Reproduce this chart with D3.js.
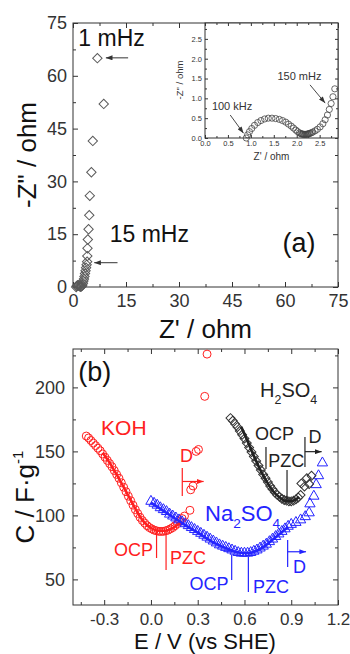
<!DOCTYPE html>
<html>
<head>
<meta charset="utf-8">
<script src="https://cdn.jsdelivr.net/npm/d3@7"></script>
<style>
body { margin: 0; background: #fff; }
svg text { font-family: "Liberation Sans", Arial, sans-serif; }
</style>
</head>
<body>
<svg id="fig" width="350" height="654"></svg>
<script>
// ---- panel (a): Nyquist plot, main ----
var zRe = [0.9, 1.05, 1.25, 1.45, 1.65, 1.85, 2.05, 2.2, 2.35, 2.5, 2.65, 2.8, 2.95, 3.1, 3.25, 3.4, 3.55, 3.7, 3.85, 4.0, 4.05, 4.1, 4.2, 4.4, 4.6, 4.75, 5.2, 5.6, 8.7, 6.9];
var zIm = [0.0, 0.25, 0.45, 0.5, 0.42, 0.25, 0.1, 0.08, 0.15, 0.3, 0.6, 1.1, 1.7, 2.3, 3.0, 3.8, 4.6, 5.5, 6.3, 7.2, 8.8, 11.0, 13.5, 16.4, 20.4, 25.9, 32.6, 41.5, 52.0, 65.0];
var zTicks = [0, 15, 30, 45, 60, 75];
var zMinor = [7.5, 22.5, 37.5, 52.5, 67.5];

// ---- panel (a): inset, high frequency part ----
var insRe = [0.90, 0.93, 0.97, 1.02, 1.08, 1.15, 1.22, 1.30, 1.38, 1.46, 1.54, 1.62, 1.69, 1.76, 1.82, 1.88, 1.93, 1.98, 2.02, 2.06, 2.09, 2.11, 2.13, 2.15, 2.17, 2.19, 2.21, 2.23, 2.25, 2.27, 2.29, 2.32, 2.35, 2.40, 2.45, 2.51, 2.57, 2.62, 2.67, 2.71, 2.75, 2.79, 2.83];
var insIm = [0.00, 0.08, 0.16, 0.24, 0.32, 0.39, 0.44, 0.48, 0.50, 0.50, 0.49, 0.47, 0.44, 0.40, 0.35, 0.30, 0.25, 0.20, 0.16, 0.13, 0.11, 0.10, 0.10, 0.09, 0.09, 0.09, 0.09, 0.10, 0.10, 0.11, 0.12, 0.13, 0.15, 0.18, 0.22, 0.28, 0.36, 0.46, 0.58, 0.72, 0.87, 1.04, 1.24];
var insTicks = [0, 0.5, 1, 1.5, 2, 2.5];
var insMinor = [0.25, 0.75, 1.25, 1.75, 2.25, 2.75];

// ---- panel (b): capacitance vs potential ----
var kohE = [-0.415, -0.40, -0.385, -0.37, -0.355, -0.34, -0.325, -0.31, -0.295, -0.28, -0.265, -0.25, -0.235, -0.22, -0.205, -0.19, -0.175, -0.16, -0.145, -0.13, -0.115, -0.10, -0.085, -0.07, -0.055, -0.04, -0.025, -0.01, 0.005, 0.02, 0.035, 0.05, 0.065, 0.08, 0.095, 0.11, 0.125, 0.14, 0.155, 0.17, 0.185, 0.20, 0.215, 0.25, 0.255, 0.27, 0.29, 0.305, 0.345, 0.36];
var kohC = [162, 160.5, 158.5, 156.5, 154.5, 152.5, 150.5, 148, 145.5, 143, 140.5, 138, 135, 132, 129, 125.5, 122, 118.5, 115, 111.5, 108, 104.5, 101.5, 98.5, 96, 94, 92, 90.5, 89.5, 88.5, 88, 87.5, 87.5, 87.5, 88, 88.5, 89.5, 90.5, 92, 93.5, 95.5, 97.5, 99.5, 104, 120, 123, 150, 151.5, 193, 226];
var kohFitE = [-0.31, -0.27, -0.23, -0.19, -0.15, -0.11, -0.07, -0.03, 0.01, 0.05, 0.09, 0.13, 0.17, 0.20];
var kohFitC = [149, 142, 134, 125.5, 116.5, 107.5, 99, 93, 89.5, 88, 88, 89.5, 92.5, 95.5];

var naE = [0.00, 0.02, 0.04, 0.06, 0.08, 0.10, 0.12, 0.14, 0.16, 0.18, 0.20, 0.22, 0.24, 0.26, 0.28, 0.30, 0.32, 0.34, 0.36, 0.38, 0.40, 0.42, 0.44, 0.46, 0.48, 0.50, 0.52, 0.54, 0.56, 0.58, 0.60, 0.62, 0.64, 0.66, 0.68, 0.70, 0.72, 0.74, 0.76, 0.78, 0.80, 0.82, 0.84, 0.86, 0.88, 0.90, 0.93, 0.96, 0.99, 1.015, 1.02, 1.045, 1.06, 1.075, 1.10];
var naC = [111, 109.5, 108, 106, 104.5, 103, 101, 99.5, 98, 96.5, 95, 93.5, 92, 90.5, 89, 87.5, 86, 84.5, 83, 81.5, 80, 78.5, 77, 76, 75, 74, 73, 72, 71, 70.5, 70.5, 70.5, 71, 72, 73, 74.5, 76, 77.5, 79.5, 81.5, 83.5, 85.5, 87.5, 89.5, 91.5, 93, 94.5, 96.5, 99, 102, 109, 115, 124, 131, 141];
var naFitE = [0.0, 0.1, 0.2, 0.3, 0.4, 0.5, 0.56, 0.62, 0.68, 0.74, 0.8, 0.85, 0.88];
var naFitC = [110, 102, 94, 86.5, 79, 73.5, 71, 70.5, 72.5, 77, 83, 88, 91];

var hE = [0.51, 0.525, 0.54, 0.555, 0.57, 0.585, 0.60, 0.615, 0.63, 0.645, 0.66, 0.675, 0.69, 0.705, 0.72, 0.735, 0.75, 0.765, 0.78, 0.795, 0.81, 0.825, 0.84, 0.855, 0.87, 0.885, 0.90, 0.915, 0.93, 0.945, 0.96, 0.965, 0.985, 1.00, 1.015, 1.03];
var hC = [176, 174, 171.5, 169, 166, 163, 160, 156.5, 153, 149.5, 146, 142.5, 139, 135.5, 132, 129, 126, 123, 120.5, 118, 116, 114.5, 113, 112, 111.5, 111, 111, 111.5, 112.5, 114, 116, 125, 122.5, 129, 124.5, 131];
var hFitE = [0.58, 0.62, 0.66, 0.70, 0.74, 0.78, 0.82, 0.86, 0.90, 0.93, 0.95];
var hFitC = [169, 158, 146.5, 136, 127, 119.5, 114.5, 111.5, 111, 112.5, 114.5];

var eTicks = [-0.3, 0, 0.3, 0.6, 0.9, 1.2];
var eMinor = [-0.45, -0.15, 0.15, 0.45, 0.75, 1.05];
var cTicks = [50, 100, 150, 200];
var cMinor = [75, 125, 175, 225];

var RED = "#ff2020", BLUE = "#2424ff", BLACK = "#222";

var svg = d3.select("#fig");
var defs = svg.append("defs");
[["red", RED], ["blue", BLUE], ["black", BLACK], ["grey", "#333"]].forEach(function(c) {
  defs.append("marker").attr("id", "ah-" + c[0])
    .attr("viewBox", "0 0 8 6").attr("refX", 8).attr("refY", 3)
    .attr("markerWidth", 7).attr("markerHeight", 5).attr("markerUnits", "userSpaceOnUse")
    .attr("orient", "auto")
    .append("path").attr("d", "M0,0L8,3L0,6z").attr("fill", c[1]);
});

function pairs(a, b) { return a.map(function(v, i) { return [v, b[i]]; }); }

// frame + inward ticks on all four sides
function axes(g, x, y, xt, xm, yt, ym, o) {
  var x0 = x.range()[0], x1 = x.range()[1], y0 = y.range()[0], y1 = y.range()[1];
  var none = function() { return ""; };
  function clean(a) {
    a.select(".domain").remove();
    a.selectAll("line").attr("stroke", "#333");
    a.selectAll("text").attr("font-size", o.fs).attr("fill", "#333");
  }
  g.append("rect").attr("x", x0).attr("y", y1).attr("width", x1 - x0).attr("height", y0 - y1)
    .attr("fill", o.fill || "none").attr("stroke", "#333").attr("stroke-width", 1);
  g.append("g").attr("transform", "translate(0," + y0 + ")")
    .call(d3.axisBottom(x).tickValues(xt).tickFormat(o.fx).tickSize(-o.big).tickPadding(o.px)).call(clean);
  g.append("g").attr("transform", "translate(0," + y0 + ")")
    .call(d3.axisBottom(x).tickValues(xm).tickFormat(none).tickSize(-o.small)).call(clean);
  g.append("g").attr("transform", "translate(0," + y1 + ")")
    .call(d3.axisTop(x).tickValues(xt).tickFormat(none).tickSize(-o.big)).call(clean);
  g.append("g").attr("transform", "translate(0," + y1 + ")")
    .call(d3.axisTop(x).tickValues(xm).tickFormat(none).tickSize(-o.small)).call(clean);
  g.append("g").attr("transform", "translate(" + x0 + ",0)")
    .call(d3.axisLeft(y).tickValues(yt).tickFormat(o.fy).tickSize(-o.big).tickPadding(o.py)).call(clean);
  g.append("g").attr("transform", "translate(" + x0 + ",0)")
    .call(d3.axisLeft(y).tickValues(ym).tickFormat(none).tickSize(-o.small)).call(clean);
  g.append("g").attr("transform", "translate(" + x1 + ",0)")
    .call(d3.axisRight(y).tickValues(yt).tickFormat(none).tickSize(-o.big)).call(clean);
  g.append("g").attr("transform", "translate(" + x1 + ",0)")
    .call(d3.axisRight(y).tickValues(ym).tickFormat(none).tickSize(-o.small)).call(clean);
}

function points(g, xs, ys, x, y, type, size, color, rot, sw) {
  g.append("g").selectAll("path").data(pairs(xs, ys)).enter().append("path")
    .attr("d", d3.symbol().type(type).size(size))
    .attr("transform", function(d) { return "translate(" + x(d[0]) + "," + y(d[1]) + ")" + (rot ? " rotate(45)" : ""); })
    .attr("fill", "none").attr("stroke", color).attr("stroke-width", sw || 1);
}

function fit(g, xs, ys, x, y, color) {
  g.append("path").datum(pairs(xs, ys))
    .attr("d", d3.line().x(function(d) { return x(d[0]); }).y(function(d) { return y(d[1]); }).curve(d3.curveMonotoneX))
    .attr("fill", "none").attr("stroke", color).attr("stroke-width", 2.6);
}

function label(g, x, y, px, py, txt, size, color, anchor) {
  return g.append("text").attr("x", x(px)).attr("y", y(py)).attr("font-size", size)
    .attr("fill", color).attr("text-anchor", anchor || "start").text(txt);
}

function seg(g, x, y, a, b, color, head, sw) {
  var l = g.append("line").attr("x1", x(a[0])).attr("y1", y(a[1])).attr("x2", x(b[0])).attr("y2", y(b[1]))
    .attr("stroke", color).attr("stroke-width", sw || 1.2);
  if (head) l.attr("marker-end", "url(#ah-" + head + ")");
}

function chem(g, x, y, px, py, parts, size, color) {
  var t = g.append("text").attr("x", x(px)).attr("y", y(py)).attr("font-size", size).attr("fill", color);
  var down = false;
  parts.forEach(function(p) {
    var s = t.append("tspan").text(p[0]);
    if (p[1] && !down) { s.attr("dy", size * 0.33).attr("font-size", size * 0.62); down = true; }
    else if (!p[1] && down) { s.attr("dy", -size * 0.33); down = false; }
    else if (p[1]) s.attr("font-size", size * 0.62);
  });
}

// ================= panel (a) =================
var ga = svg.append("g");
var xa = d3.scaleLinear().domain([0, 75]).range([73, 338]);
var ya = d3.scaleLinear().domain([0, 75]).range([287, 23]);
var intFmt = function(d) { return d; };
axes(ga, xa, ya, zTicks, zMinor, zTicks, zMinor, { fs: 18, big: 5, small: 3, px: 7, py: 6, fx: intFmt, fy: intFmt });
points(ga, zRe, zIm, xa, ya, d3.symbolSquare, 44, "#5a5a5a", true, 1);

label(ga, xa, ya, 1.5, 68.6, "1 mHz", 23, "#111");
label(ga, xa, ya, 10.4, 12.9, "15 mHz", 23, "#111");
label(ga, xa, ya, 59.3, 9.9, "(a)", 27, "#111");
seg(ga, xa, ya, [15.6, 65.1], [9.3, 65.1], "#333", "grey", 1);
seg(ga, xa, ya, [12.6, 6.9], [6.0, 6.9], "#333", "grey", 1);

ga.append("text").attr("transform", "translate(36,155) rotate(-90)").attr("text-anchor", "middle")
  .attr("font-size", 26).attr("fill", "#111").text('-Z" / ohm');
ga.append("text").attr("x", 205.5).attr("y", 338).attr("text-anchor", "middle")
  .attr("font-size", 26).attr("fill", "#111").text("Z' / ohm");

// inset
var gi = svg.append("g");
var xi = d3.scaleLinear().domain([0, 2.9]).range([205, 338]);
var yi = d3.scaleLinear().domain([0, 2.9]).range([138, 23]);
var f1 = function(d) { return d.toFixed(1); };
axes(gi, xi, yi, insTicks, insMinor, insTicks, insMinor, { fs: 7.5, big: 3, small: 2, px: 3, py: 3, fx: f1, fy: f1, fill: "#fff" });
points(gi, insRe, insIm, xi, yi, d3.symbolCircle, 30, "#444", false, 0.8);
label(gi, xi, yi, 1.58, 1.46, "150 mHz", 11, "#333");
label(gi, xi, yi, 0.15, 0.71, "100 kHz", 11, "#333");
seg(gi, xi, yi, [2.29, 1.34], [2.62, 0.88], "#333", "grey", 0.9);
seg(gi, xi, yi, [0.55, 0.58], [0.84, 0.12], "#333", "grey", 0.9);
gi.append("text").attr("transform", "translate(183,80) rotate(-90)").attr("text-anchor", "middle")
  .attr("font-size", 9.5).attr("fill", "#333").text('-Z" / ohm');
gi.append("text").attr("x", 271.5).attr("y", 160).attr("text-anchor", "middle")
  .attr("font-size", 10).attr("fill", "#333").text("Z' / ohm");

// ================= panel (b) =================
var gb = svg.append("g");
var xb = d3.scaleLinear().domain([-0.5, 1.2]).range([73, 338]);
var yb = d3.scaleLinear().domain([30, 230]).range([605, 349]);
axes(gb, xb, yb, eTicks, eMinor, cTicks, cMinor, { fs: 17, big: 5, small: 3, px: 8, py: 8, fx: f1, fy: intFmt });
gb.selectAll("g text").filter(function() { return this.textContent === "200" || this.textContent === "150" || this.textContent === "100" || this.textContent === "50"; })
  .attr("font-size", 18);

points(gb, kohE, kohC, xb, yb, d3.symbolCircle, 50, RED, false, 1);
points(gb, naE, naC, xb, yb, d3.symbolTriangle, 46, BLUE, false, 1);
points(gb, hE, hC, xb, yb, d3.symbolSquare, 40, "#333", true, 1);
fit(gb, kohFitE, kohFitC, xb, yb, RED);
fit(gb, naFitE, naFitC, xb, yb, BLUE);
fit(gb, hFitE, hFitC, xb, yb, BLACK);

label(gb, xb, yb, -0.466, 205, "(b)", 27, "#111");
label(gb, xb, yb, -0.32, 162.5, "KOH", 21, RED);
chem(gb, xb, yb, 0.70, 192.5, [["H"], ["2", 1], ["SO"], ["4", 1]], 20, BLACK);
chem(gb, xb, yb, 0.347, 95.6, [["Na"], ["2", 1], ["SO"], ["4", 1]], 22, BLUE);

// H2SO4 markers
label(gb, xb, yb, 0.667, 158.9, "OCP", 18, BLACK);
seg(gb, xb, yb, [0.738, 153.4], [0.738, 136.3], BLACK);
label(gb, xb, yb, 0.753, 137.8, "PZC", 18, BLACK);
seg(gb, xb, yb, [0.873, 135.5], [0.873, 111.3], BLACK);
seg(gb, xb, yb, [0.988, 161.3], [0.988, 137.8], BLACK);
seg(gb, xb, yb, [0.988, 149.8], [1.095, 149.8], BLACK, "black");
label(gb, xb, yb, 1.01, 156.6, "D", 18, BLACK);

// KOH markers
label(gb, xb, yb, 0.013, 68.3, "OCP", 18, RED, "end");
seg(gb, xb, yb, [0.036, 88.6], [0.036, 66.7], RED);
seg(gb, xb, yb, [0.097, 87.8], [0.097, 57.3], RED);
label(gb, xb, yb, 0.122, 62, "PZC", 18, RED);
seg(gb, xb, yb, [0.201, 137], [0.201, 115.2], RED);
seg(gb, xb, yb, [0.201, 126.5], [0.338, 126.5], RED, "red");
label(gb, xb, yb, 0.186, 141.7, "D", 18, RED);

// Na2SO4 markers
label(gb, xb, yb, 0.498, 41.7, "OCP", 18, BLUE, "end");
seg(gb, xb, yb, [0.518, 69], [0.518, 49.5], BLUE);
seg(gb, xb, yb, [0.625, 67.5], [0.625, 40.2], BLUE);
label(gb, xb, yb, 0.655, 39.4, "PZC", 18, BLUE);
seg(gb, xb, yb, [0.877, 80.8], [0.877, 59.7], BLUE);
seg(gb, xb, yb, [0.877, 71.6], [0.995, 71.6], BLUE, "blue");
label(gb, xb, yb, 0.911, 55, "D", 18, BLUE);

var yt = gb.append("text").attr("transform", "translate(34,497) rotate(-90)").attr("text-anchor", "middle")
  .attr("font-size", 26).attr("fill", "#111");
yt.append("tspan").text("C / F\u00b7g");
yt.append("tspan").attr("font-size", 15).attr("dy", -11).text("-1");
gb.append("text").attr("x", 205).attr("y", 649).attr("text-anchor", "middle")
  .attr("font-size", 22).attr("fill", "#111").text("E / V (vs SHE)");
</script>
</body>
</html>
